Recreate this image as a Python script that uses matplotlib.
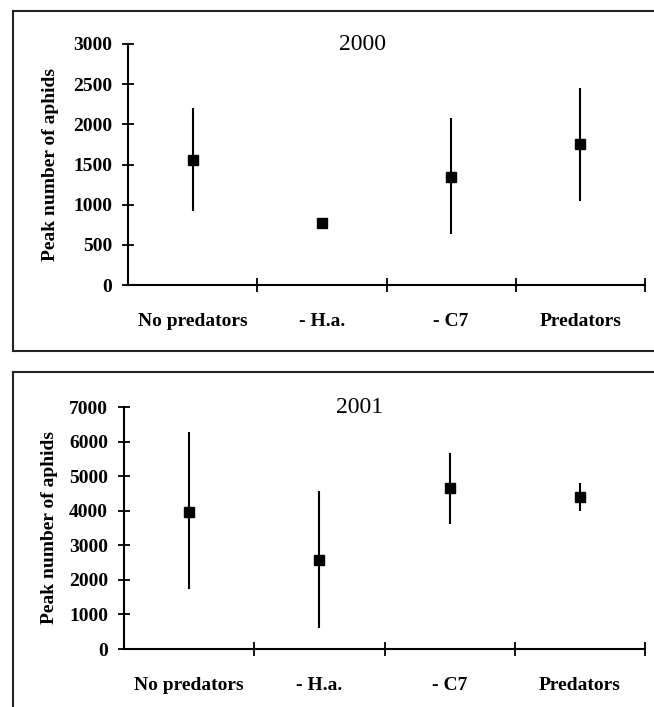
import matplotlib
matplotlib.use("Agg")
import matplotlib.pyplot as plt
from matplotlib.lines import Line2D
import numpy as np

plt.rcParams['font.family'] = ['Liberation Serif', 'DejaVu Serif']

categories = ["No predators", "- H.a.", "- C7", "Predators"]

# 2000
mean_2000 = [1556, 772, 1344, 1755]
upper_2000 = [2203, 772, 2079, 2452]
lower_2000 = [921, 772, 635, 1046]

# 2001
mean_2001 = [3963, 2574, 4657, 4397]
upper_2001 = [6277, 4570, 5669, 4802]
lower_2001 = [1736, 607, 3616, 3992]

panels = [
    ("2000", mean_2000, upper_2000, lower_2000, [0, 3000], np.arange(0, 3001, 500),
     [128/654, 1-285/707, 517/654, 241/707], 10),
    ("2001", mean_2001, upper_2001, lower_2001, [0, 7000], np.arange(0, 7001, 1000),
     [124/654, 1-649/707, 521/654, 242/707], 8),
]

fig = plt.figure(figsize=(6.54, 7.07), dpi=100)

for title, mean, up, lo, ylim, yticks, rect, lpad in panels:
    ax = fig.add_axes(rect)
    x = np.arange(1, len(categories) + 1)
    m = np.array(mean)
    yerr = np.vstack([m - np.array(lo), np.array(up) - m])
    ax.errorbar(x, m, yerr=yerr, fmt='s', color='black', ms=7.5, elinewidth=1.5,
                capsize=0, zorder=3)
    ax.set_xlim(0.5, 4.5)
    ax.set_ylim(*ylim)
    ax.set_yticks(yticks)
    ax.set_yticklabels([str(v) for v in yticks], fontsize=14, fontweight='bold')
    ax.set_xticks([1.5, 2.5, 3.5, 4.5])
    ax.set_xticklabels([])
    ax.set_xticks(x, minor=True)
    ax.set_xticklabels(categories, minor=True, fontsize=14, fontweight='bold')
    ax.tick_params(axis='x', which='major', direction='inout', length=10, width=1.3)
    ax.tick_params(axis='x', which='minor', length=0, pad=20)
    ax.tick_params(axis='y', direction='inout', length=9, width=1.3, pad=7)
    for s in ['top', 'right']:
        ax.spines[s].set_visible(False)
    for s in ['left', 'bottom']:
        ax.spines[s].set_linewidth(1.5)
    ax.set_ylabel("Peak number of aphids", fontsize=14, fontweight='bold', labelpad=lpad)
    ax.text(0.453, 1.0, title, transform=ax.transAxes, ha='center', va='center',
            fontsize=17)

# panel frames
W, H = 654, 707
def fx(px):
    return px / W
def fy(py):
    return 1 - py / H

frame_kw = dict(color='#222222', lw=1.5, transform=fig.transFigure)
# top frame
fig.add_artist(Line2D([fx(13), fx(13)], [fy(351), fy(11)], **frame_kw))
fig.add_artist(Line2D([fx(13), 1.01], [fy(11), fy(11)], **frame_kw))
fig.add_artist(Line2D([fx(13), 1.01], [fy(351), fy(351)], **frame_kw))
# bottom frame
fig.add_artist(Line2D([fx(13), fx(13)], [-0.01, fy(372)], **frame_kw))
fig.add_artist(Line2D([fx(13), 1.01], [fy(372), fy(372)], **frame_kw))

fig.savefig("out.png", dpi=100)
